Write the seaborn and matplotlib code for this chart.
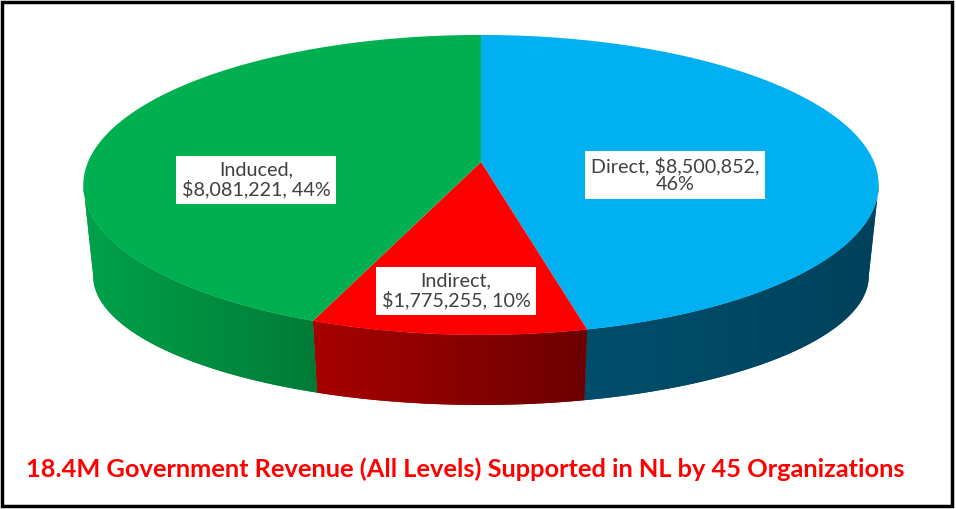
import numpy as np
import matplotlib
matplotlib.use("Agg")
import matplotlib.pyplot as plt
import matplotlib.transforms as mtransforms
from matplotlib.colors import LinearSegmentedColormap
from matplotlib.path import Path
from matplotlib.patches import Rectangle, Polygon
import seaborn as sns

# data
categories = ["Direct", "Indirect", "Induced"]
revenue = [8500852, 1775255, 8081221]
top_colors = ["#00B0F0", "#FF0000", "#00B050"]
# side wall shading (left end, right end of each slice)
side_left = ["#004E6C", "#A80000", "#00A24B"]
side_right = ["#00425C", "#6C0000", "#007B37"]
title = "18.4M Government Revenue (All Levels) Supported in NL by 45 Organizations"

# layout of the tilted disc, in pixels (y down)
W, H = 956, 509
CX, CY = 481, 162
SX, SY, K = 393, 146.5, 0.153
label_pos = [(675, 175), (456, 291), (256, 180)]


def project(u, v):
    w = 1 + K * v
    return CX + SX * u / w, CY - SY * v / w


class TiltTransform(mtransforms.Transform):
    input_dims = output_dims = 2

    def transform_non_affine(self, values):
        values = np.asarray(values, dtype=float)
        x, y = project(values[:, 0], values[:, 1])
        return np.column_stack([x, y])

    def transform_path_non_affine(self, path):
        pts = [seg(np.linspace(0, 1, 60)) for seg, _ in path.iter_bezier()]
        pts = np.vstack(pts)
        pts = np.vstack([pts, pts[:1]])
        return Path(self.transform_non_affine(pts), closed=True)


def rim(t_deg, depth=False):
    t = np.radians(t_deg)
    x, y = project(np.cos(t), np.sin(t))
    if depth:
        x = CX + (x - CX) * 0.975
        y = y + 95 + 25 * np.sin(t)
    return x, y


sns.set_theme(style="white")
plt.rcParams["font.family"] = ["Lato", "DejaVu Sans"]

fig = plt.figure(figsize=(W / 100, H / 100), dpi=100)
ax = fig.add_axes([0, 0, 1, 1])

wedges, _ = ax.pie(revenue, colors=top_colors, startangle=90, counterclock=False,
                   wedgeprops=dict(linewidth=0))
ax.set_aspect("auto")
ax.set_xlim(0, W)
ax.set_ylim(H, 0)
ax.axis("off")

tilt = TiltTransform()
for w in wedges:
    w.set_transform(tilt + ax.transData)
    w.set_zorder(3)

# visible wall runs between the two silhouette tangents of the top rim
t_tan = np.degrees(np.arcsin(K))
front_lo, front_hi = -180 + t_tan, -t_tan

for i, w in enumerate(wedges):
    for off in (-360, 0, 360):
        lo = max(w.theta1 + off, front_lo)
        hi = min(w.theta2 + off, front_hi)
        if hi <= lo:
            continue
        t = np.linspace(lo, hi, 200)
        xa, ya = rim(t)
        xb, yb = rim(t[::-1], depth=True)
        verts = np.column_stack([np.r_[xa, xb], np.r_[ya, yb]])
        wall = Polygon(verts, closed=True, fc=side_left[i], ec="none", zorder=1)
        ax.add_patch(wall)
        cmap = LinearSegmentedColormap.from_list("wall", [side_left[i], side_right[i]])
        x0, x1 = verts[:, 0].min() - 1, verts[:, 0].max() + 1
        y0, y1 = verts[:, 1].min() - 1, verts[:, 1].max() + 1
        im = ax.imshow(np.linspace(0, 1, 256)[None, :], cmap=cmap, aspect="auto",
                       extent=(x0, x1, y1, y0), zorder=2, interpolation="bilinear")
        im.set_clip_path(wall)

ax.set_xlim(0, W)
ax.set_ylim(H, 0)

total = sum(revenue)
texts = []
for name, val in zip(categories, revenue):
    pct = round(100 * val / total)
    if name == "Direct":
        texts.append(f"{name}, ${val:,},\n{pct}%")
    else:
        texts.append(f"{name},\n${val:,}, {pct}%")

for s, (px, py) in zip(texts, label_pos):
    ax.text(px, py, s, ha="center", va="center", fontsize=14.2, color="#404040",
            linespacing=1.05, zorder=5,
            bbox=dict(boxstyle="square,pad=0.3", fc="white", ec="none"))

fig.text(465 / W, 1 - 469 / H, title, ha="center", va="center", color="#FF0000",
         fontsize=18.3, fontweight="bold")

fig.add_artist(Rectangle((2 / W, 3 / H), 950 / W, 504 / H, transform=fig.transFigure,
                         fill=False, ec="black", lw=2.5))

fig.savefig("out.png", dpi=100, facecolor="white")
